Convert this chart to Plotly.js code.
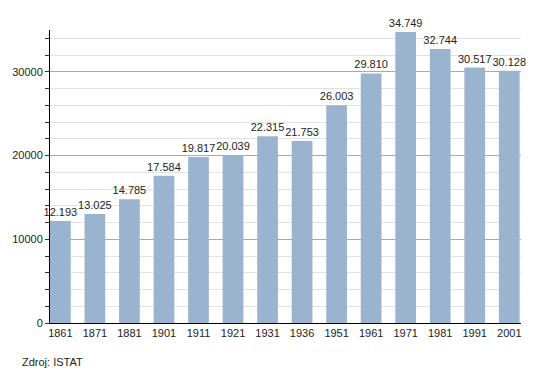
<!DOCTYPE html>
<html>
<head>
<meta charset="utf-8">
<script src="https://cdn.plot.ly/plotly-3.0.1.min.js"></script>
<style>html,body{margin:0;padding:0;background:#fff;}#chart{width:550px;height:373px;}</style>
</head>
<body>
<div id="chart"></div>
<script>
const years = ['1861','1871','1881','1901','1911','1921','1931','1936','1951','1961','1971','1981','1991','2001'];
const population = [12193,13025,14785,17584,19817,20039,22315,21753,26003,29810,34749,32744,30517,30128];
const labels = ['12.193','13.025','14.785','17.584','19.817','20.039','22.315','21.753','26.003','29.810','34.749','32.744','30.517','30.128'];
const source = 'Zdroj: ISTAT';

const trace = {
  type: 'bar',
  x: years,
  y: population,
  text: labels,
  textposition: 'outside',
  constraintext: 'none',
  cliponaxis: false,
  textfont: {family: 'Liberation Sans, Arial, sans-serif', size: 11, color: '#222'},
  marker: {color: '#9ab3cf', line: {width: 0}},
  width: 0.6,
  hoverinfo: 'none'
};

const layout = {
  width: 550, height: 373,
  margin: {l: 50, r: 29, t: 30, b: 50},
  paper_bgcolor: '#fff', plot_bgcolor: '#fff',
  showlegend: false,
  font: {family: 'Liberation Sans, Arial, sans-serif', size: 11, color: '#222'},
  xaxis: {
    type: 'category',
    range: [-0.3, 13.34],
    showline: true, linecolor: '#000', linewidth: 1,
    ticks: '', showgrid: false,
    tickfont: {size: 11, color: '#222'},
    zeroline: false
  },
  yaxis: {
    range: [0, 35000],
    dtick: 10000,
    tickformat: 'd',
    showline: true, linecolor: '#000', linewidth: 1,
    ticks: 'outside', ticklen: 4, tickcolor: '#333',
    showgrid: true, gridcolor: '#aaaaaa', gridwidth: 1,
    zeroline: false,
    tickfont: {size: 11, color: '#222'},
    minor: {dtick: 2000, ticks: 'outside', ticklen: 4, tickcolor: '#333', showgrid: true, gridcolor: '#e2e2e2', gridwidth: 1}
  },
  bargap: 0.4,
  annotations: [{
    text: source, xref: 'paper', yref: 'paper',
    x: -50/471, y: -39/293, xanchor: 'left', yanchor: 'middle',
    xshift: 20, showarrow: false,
    font: {size: 11, color: '#222'}
  }]
};

Plotly.newPlot('chart', [trace], layout, {displayModeBar: false, staticPlot: true});
</script>
</body>
</html>
